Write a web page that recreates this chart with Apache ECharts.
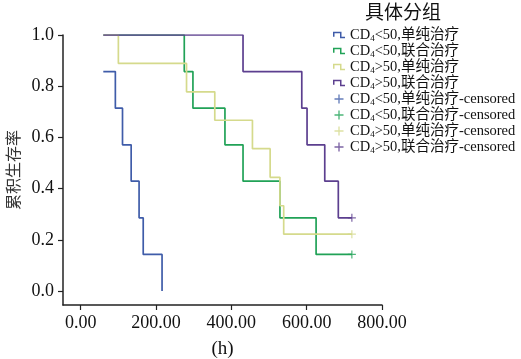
<!DOCTYPE html>
<html><head><meta charset="utf-8">
<script src="https://cdn.jsdelivr.net/npm/echarts@6/dist/echarts.min.js"></script>
<style>html,body{margin:0;padding:0;background:#fff}#c{width:521px;height:359px}</style>
</head><body><div id="c"></div>
<script>
// Group names
var groupNames = ['CD4<50,单纯治疗', 'CD4<50,联合治疗', 'CD4>50,单纯治疗', 'CD4>50,联合治疗'];
var censorNames = ['CD4<50,单纯治疗-censored', 'CD4<50,联合治疗-censored', 'CD4>50,单纯治疗-censored', 'CD4>50,联合治疗-censored'];
// Kaplan-Meier step data (time in h, cumulative survival)
var blueTimes = [60, 92, 111, 134, 155, 166, 216];
var blueSurv = [0.857, 0.714, 0.571, 0.429, 0.286, 0.143, 0.0];
var greenTimes = [60, 275, 298, 383, 431, 529, 625, 720];
var greenSurv = [1.0, 0.857, 0.714, 0.571, 0.429, 0.286, 0.143, 0.143];
var yellowTimes = [60, 100, 281, 356, 456, 503, 529, 539, 720];
var yellowSurv = [1.0, 0.889, 0.778, 0.667, 0.556, 0.444, 0.333, 0.222, 0.222];
var purpleTimes = [60, 431, 587, 601, 648, 684, 720];
var purpleSurv = [1.0, 0.857, 0.714, 0.571, 0.429, 0.286, 0.286];
// Censored observations
var blueCensorT = [], blueCensorS = [];
var greenCensorT = [720], greenCensorS = [0.143];
var yellowCensorT = [720], yellowCensorS = [0.222];
var purpleCensorT = [720], purpleCensorS = [0.286];
// Axis ticks
var xTicks = [0, 200, 400, 600, 800];
var yTicks = [0, 0.2, 0.4, 0.6, 0.8, 1.0];

var colors = ['#3f5ca9', '#21a257', '#d5da8c', '#5c3f8f'];
function zip(a, b) { return a.map(function (v, i) { return [v, b[i]]; }); }
var lineData = [zip(blueTimes, blueSurv), zip(greenTimes, greenSurv), zip(yellowTimes, yellowSurv), zip(purpleTimes, purpleSurv)];
var censorData = [zip(blueCensorT, blueCensorS), zip(greenCensorT, greenCensorS), zip(yellowCensorT, yellowCensorS), zip(purpleCensorT, purpleCensorS)];

var stepIcon = 'path://M0,5L0,0L8.5,0L8.5,5L12,5L12,6.5L7,6.5L7,1.5L1.5,1.5L1.5,5Z';
var plusIcon = 'path://M4.25,0L5.75,0L5.75,4.25L10,4.25L10,5.75L5.75,5.75L5.75,10L4.25,10L4.25,5.75L0,5.75L0,4.25L4.25,4.25Z';

var series = [];
for (var i = 0; i < 4; i++) {
  series.push({
    name: groupNames[i], type: 'line', step: 'end', data: lineData[i],
    symbol: 'none', color: colors[i], z: 2 + i,
    lineStyle: { width: 1.7, color: colors[i] }
  });
}
for (var j = 0; j < 4; j++) {
  series.push({
    name: censorNames[j], type: 'scatter', data: censorData[j],
    symbol: plusIcon, symbolSize: 8, color: colors[j], z: 10,
    itemStyle: { color: colors[j] }
  });
}

var serif = '"Liberation Serif", "Times New Roman", "Noto Sans CJK SC", serif';
var legendData = groupNames.map(function (n) { return { name: n, icon: stepIcon }; })
  .concat(censorNames.map(function (n) { return { name: n, icon: plusIcon }; }));

var chart = echarts.init(document.getElementById('c'), null, { renderer: 'canvas' });
chart.setOption({
  animation: false,
  backgroundColor: '#fff',
  title: {
    text: '具体分组', left: 360, top: 0,
    textStyle: { fontSize: 19, fontWeight: 'normal', color: '#111', fontFamily: serif }
  },
  legend: {
    orient: 'vertical', left: 328, top: 22, itemGap: 0,
    itemWidth: 12, itemHeight: 9, data: legendData,
    formatter: function (n) { return n.replace('CD4', 'CD{sub|4}'); },
    textStyle: {
      fontSize: 14.5, color: '#111', fontFamily: serif, lineHeight: 15.5,
      rich: { sub: { fontSize: 9, lineHeight: 15.5, fontFamily: serif, color: '#111', padding: [7, 0, 0, 0] } }
    }
  },
  grid: { left: 63, right: 139, top: 35, bottom: 54, containLabel: false, outerBoundsMode: 'none' },
  xAxis: {
    type: 'value', min: -47, max: 800,
    name: '(h)', nameLocation: 'middle', nameGap: 35,
    nameTextStyle: { fontSize: 19, color: '#111', fontFamily: serif },
    axisLine: { onZero: false, lineStyle: { color: '#222', width: 1.5 } },
    axisTick: { show: true, length: 5, customValues: xTicks, lineStyle: { color: '#222', width: 1.2 } },
    axisLabel: { customValues: xTicks, fontSize: 18, color: '#111', fontFamily: serif, margin: 9,
      formatter: function (v) { return v.toFixed(2); } },
    splitLine: { show: false }
  },
  yAxis: {
    type: 'value', min: -0.0547, max: 1.0,
    name: '累积生存率', nameLocation: 'middle', nameGap: 40, nameRotate: 90,
    nameTextStyle: { fontSize: 16, color: '#333', fontFamily: '"Noto Sans CJK SC", sans-serif' },
    axisLine: { show: true, onZero: false, lineStyle: { color: '#222', width: 1.5 } },
    axisTick: { show: true, length: 5, customValues: yTicks, lineStyle: { color: '#222', width: 1.2 } },
    axisLabel: { customValues: yTicks, fontSize: 18, color: '#111', fontFamily: serif, margin: 9,
      formatter: function (v) { return v.toFixed(1); } },
    splitLine: { show: false }
  },
  series: series
});
</script></body></html>
